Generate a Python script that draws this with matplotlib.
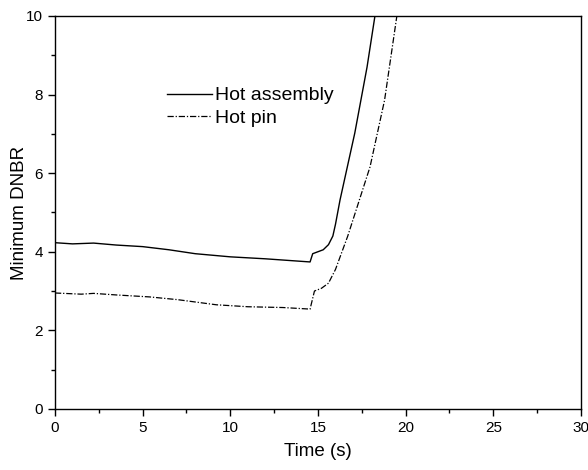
import matplotlib
matplotlib.use("Agg")
import matplotlib.pyplot as plt
from matplotlib.ticker import MultipleLocator

plt.rcParams['font.family'] = ['Liberation Sans', 'DejaVu Sans']

t_assembly = [0, 1.0, 2.2, 3.5, 5.0, 6.5, 8.0, 10.0, 12.0, 14.55, 14.7, 15.3, 15.6, 15.85, 16.0, 16.26, 17.1, 17.8, 18.25]
dnbr_assembly = [4.23, 4.2, 4.22, 4.17, 4.13, 4.05, 3.95, 3.87, 3.82, 3.74, 3.95, 4.05, 4.18, 4.4, 4.7, 5.32, 7.02, 8.7, 10.0]

t_pin = [0, 1.5, 2.2, 3.5, 5.4, 7.0, 9.2, 11.0, 13.0, 14.55, 14.8, 15.2, 15.6, 16.0, 16.7, 17.97, 18.8, 19.5]
dnbr_pin = [2.95, 2.92, 2.94, 2.9, 2.85, 2.78, 2.65, 2.6, 2.58, 2.54, 3.0, 3.07, 3.2, 3.55, 4.4, 6.16, 7.86, 10.0]

fig = plt.figure(figsize=(5.88, 4.70), dpi=100)
ax = fig.add_axes([0.0935, 0.130, 0.8945, 0.836])

ax.plot(t_assembly, dnbr_assembly, color='black', lw=1.0, label='Hot assembly')
ax.plot(t_pin, dnbr_pin, color='black', lw=0.9, linestyle=(0, (5, 1.5, 1, 1.5)), label='Hot pin')

ax.set_xlim(0, 30)
ax.set_ylim(0, 10)
ax.xaxis.set_major_locator(MultipleLocator(5))
ax.xaxis.set_minor_locator(MultipleLocator(2.5))
ax.yaxis.set_major_locator(MultipleLocator(2))
ax.yaxis.set_minor_locator(MultipleLocator(1))
ax.tick_params(which='both', direction='out', top=False, right=False, labelsize=11, width=1.0)
ax.tick_params(which='major', length=5)
ax.tick_params(which='minor', length=3)
for s in ax.spines.values():
    s.set_linewidth(1.0)

ax.set_xlabel('Time (s)', fontsize=13.5, labelpad=6)
ax.set_ylabel('Minimum DNBR', fontsize=13.5, labelpad=-1)

ax.legend(loc='upper left', bbox_to_anchor=(0.213, 0.82), frameon=False, fontsize=14,
          handlelength=2.3, handletextpad=0.15, labelspacing=0.25, borderaxespad=0,
          borderpad=0)

fig.savefig('out.png', dpi=100)
